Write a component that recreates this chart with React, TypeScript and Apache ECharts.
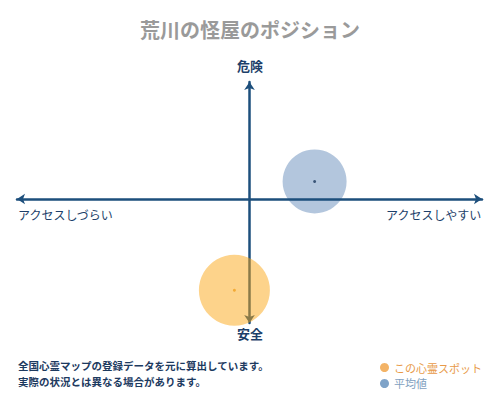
import { useEffect, useRef } from "react";
import * as echarts from "echarts";

// 位置データ（横軸: アクセスのしやすさ、縦軸: 危険度）
const seriesNames = ["この心霊スポット", "平均値"];
const spotPoint = [-6.5, -78];
const averagePoint = [28, 15];
const symbolSizes = [71, 64];

const axisLabels = {
  top: "危険",
  bottom: "安全",
  left: "アクセスしづらい",
  right: "アクセスしやすい",
};
const notes = ["全国心霊マップの登録データを元に算出しています。", "実際の状況とは異なる場合があります。"];

const FONT = "'Noto Sans CJK JP', 'Noto Sans', sans-serif";
const NAVY = "#1d4f7c";

const App = () => {
  const chartRef = useRef<HTMLDivElement>(null);

  useEffect(() => {
    if (!chartRef.current) return;
    const chart = echarts.init(chartRef.current, undefined, { renderer: "svg" });

    const axisLine = {
      show: true,
      onZero: true,
      symbol: ["arrow", "arrow"],
      symbolSize: [8, 8],
      lineStyle: { color: NAVY, width: 2.5 },
    };

    const option: echarts.EChartsOption = {
      animation: false,
      backgroundColor: "#ffffff",
      textStyle: { fontFamily: FONT },
      title: {
        text: "荒川の怪屋のポジション",
        left: "center",
        top: 14,
        textStyle: { color: "#9a9a9a", fontSize: 20, fontWeight: "bold", fontFamily: FONT },
      },
      grid: { left: 17, right: 18, top: 82, bottom: 77 },
      xAxis: {
        type: "value",
        min: -100,
        max: 100,
        z: 3,
        axisLine,
        axisTick: { show: false },
        axisLabel: { show: false },
        splitLine: { show: false },
      },
      yAxis: {
        type: "value",
        min: -106,
        max: 100,
        z: 3,
        axisLine,
        axisTick: { show: false },
        axisLabel: { show: false },
        splitLine: { show: false },
      },
      legend: {
        orient: "vertical",
        left: 375,
        top: 357,
        itemWidth: 9,
        itemHeight: 9,
        itemGap: 5,
        icon: "circle",
        textStyle: { fontSize: 11, fontFamily: FONT },
        data: [
          { name: seriesNames[0], itemStyle: { color: "#f0a040" }, textStyle: { color: "#e89a48" } },
          { name: seriesNames[1], itemStyle: { color: "#7fa3c8" }, textStyle: { color: "#7f9fc0" } },
        ],
      },
      series: [
        {
          name: seriesNames[1],
          type: "scatter",
          z: 2,
          symbolSize: symbolSizes[1],
          data: [averagePoint],
          itemStyle: { color: "#b3c6dd", opacity: 1 },
        },
        {
          name: seriesNames[0],
          type: "scatter",
          z: 5,
          symbolSize: symbolSizes[0],
          data: [spotPoint],
          itemStyle: { color: "rgba(250,165,20,0.62)", opacity: 0.8 },
        },
        {
          type: "scatter",
          z: 6,
          symbolSize: 3,
          silent: true,
          data: [
            { value: averagePoint, itemStyle: { color: "#1d3a5f" } },
            { value: spotPoint, itemStyle: { color: "#f0a020" } },
          ],
        },
      ],
      graphic: [
        {
          type: "text",
          left: "center",
          top: 59,
          style: { text: axisLabels.top, fill: "#1d3f6a", font: `bold 13px ${FONT}` },
        },
        {
          type: "text",
          left: "center",
          top: 327,
          style: { text: axisLabels.bottom, fill: "#1d3f6a", font: `bold 13px ${FONT}` },
        },
        {
          type: "text",
          left: 18,
          top: 208,
          style: { text: axisLabels.left, fill: "#1d3f6a", font: `12px ${FONT}` },
        },
        {
          type: "text",
          right: 18,
          top: 208,
          style: { text: axisLabels.right, fill: "#1d3f6a", font: `12px ${FONT}` },
        },
        {
          type: "text",
          left: 18,
          top: 360,
          style: { text: notes[0], fill: "#1d3a5f", font: `bold 10.5px ${FONT}` },
        },
        {
          type: "text",
          left: 18,
          top: 376,
          style: { text: notes[1], fill: "#1d3a5f", font: `bold 10.5px ${FONT}` },
        },
      ],
    };

    chart.setOption(option);

    return () => {
      chart.dispose();
    };
  }, []);

  return (
    <div
      ref={chartRef}
      style={{ position: "fixed", left: 0, top: 0, width: "500px", height: "400px" }}
    />
  );
};

export default App;
